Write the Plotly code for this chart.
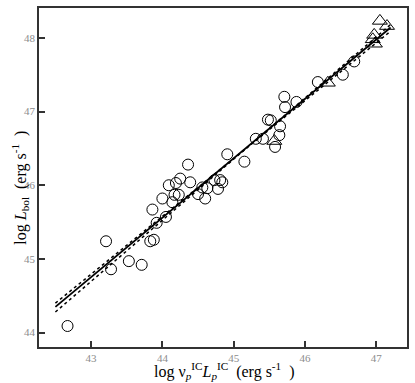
import plotly.graph_objects as go

# circles: log nu_p L_p (IC) vs log L_bol
circ_x = [42.67, 43.21, 43.28, 43.53, 43.71, 43.83, 43.88, 43.86, 43.92, 44.00,
          44.05, 44.09, 44.14, 44.17, 44.23, 44.19, 44.25, 44.36, 44.39, 44.50,
          44.56, 44.63, 44.60, 44.73, 44.81, 44.84, 44.78, 44.91, 45.15, 45.31,
          45.41, 45.48, 45.52, 45.65, 45.64, 45.58, 45.71, 45.72, 45.88, 46.18,
          46.53, 46.69]
circ_y = [44.09, 45.24, 44.86, 44.97, 44.92, 45.24, 45.26, 45.67, 45.49, 45.82,
          45.57, 46.00, 45.77, 45.87, 45.87, 46.03, 46.09, 46.28, 46.04, 45.88,
          45.97, 45.96, 45.82, 46.07, 46.07, 46.04, 45.95, 46.42, 46.32, 46.63,
          46.63, 46.89, 46.88, 46.80, 46.68, 46.52, 47.20, 47.06, 47.13, 47.40,
          47.50, 47.68]

# triangles
tri_x = [45.57, 46.32, 47.05, 47.15, 46.97, 46.95, 46.98]
tri_y = [46.60, 47.39, 48.23, 48.16, 48.04, 47.98, 47.92]

# fit lines
fit_x = [42.5, 47.2]
fit_y = [44.35, 48.14]
dot1_y = [44.28, 48.18]
dot2_y = [44.40, 48.09]

x_ticks = [43, 44, 45, 46, 47]
y_ticks = [44, 45, 46, 47, 48]

SERIF = 'Liberation Serif, Times New Roman, serif'

fig = go.Figure()
fig.add_trace(go.Scatter(x=fit_x, y=dot1_y, mode='lines',
                         line=dict(color='black', width=1.5, dash='dot')))
fig.add_trace(go.Scatter(x=fit_x, y=dot2_y, mode='lines',
                         line=dict(color='black', width=1.5, dash='dot')))
fig.add_trace(go.Scatter(x=fit_x, y=fit_y, mode='lines',
                         line=dict(color='black', width=1.8)))
fig.add_trace(go.Scatter(x=circ_x, y=circ_y, mode='markers',
                         marker=dict(symbol='circle-open', size=11,
                                     color='black', line=dict(width=1))))
fig.add_trace(go.Scatter(x=tri_x, y=tri_y, mode='markers',
                         marker=dict(symbol='triangle-up-open', size=13,
                                     color='black', line=dict(width=1))))

axis_style = dict(
    showgrid=False, zeroline=False,
    showline=True, mirror=True, linecolor='#333', linewidth=1.5,
    ticks='inside', ticklen=6, tickwidth=1.5, tickcolor='#333',
    tickfont=dict(family=SERIF, size=11, color='#8c8c8c'),
)

fig.update_xaxes(range=[42.27, 47.43], tickvals=x_ticks, **axis_style)
fig.update_yaxes(range=[43.805, 48.405], tickvals=y_ticks, **axis_style)

fig.update_layout(
    width=415, height=383,
    margin=dict(l=39, r=6, t=6, b=36),
    paper_bgcolor='white', plot_bgcolor='white',
    showlegend=False,
    font=dict(family=SERIF, color='black'),
    annotations=[
        dict(text='log ν<sub><i>p</i></sub><sup>IC</sup><i>L</i><sub><i>p</i></sub><sup>IC</sup>  (erg s<sup>-1</sup>  )',
             xref='paper', yref='paper', x=0.503, y=0, yanchor='middle',
             yshift=-24, showarrow=False, font=dict(size=16)),
        dict(text='log <i>L</i><sub>bol</sub>  (erg s<sup>-1</sup>  )',
             xref='paper', yref='paper', x=0, y=0.47, xanchor='center',
             xshift=-19, textangle=-90, showarrow=False, font=dict(size=16)),
    ],
)

# page body has a default 8px margin; drop it so the figure fills the window
fig.write_html("out.html", config={'displayModeBar': False},
               post_script="document.body.style.margin='0';")
